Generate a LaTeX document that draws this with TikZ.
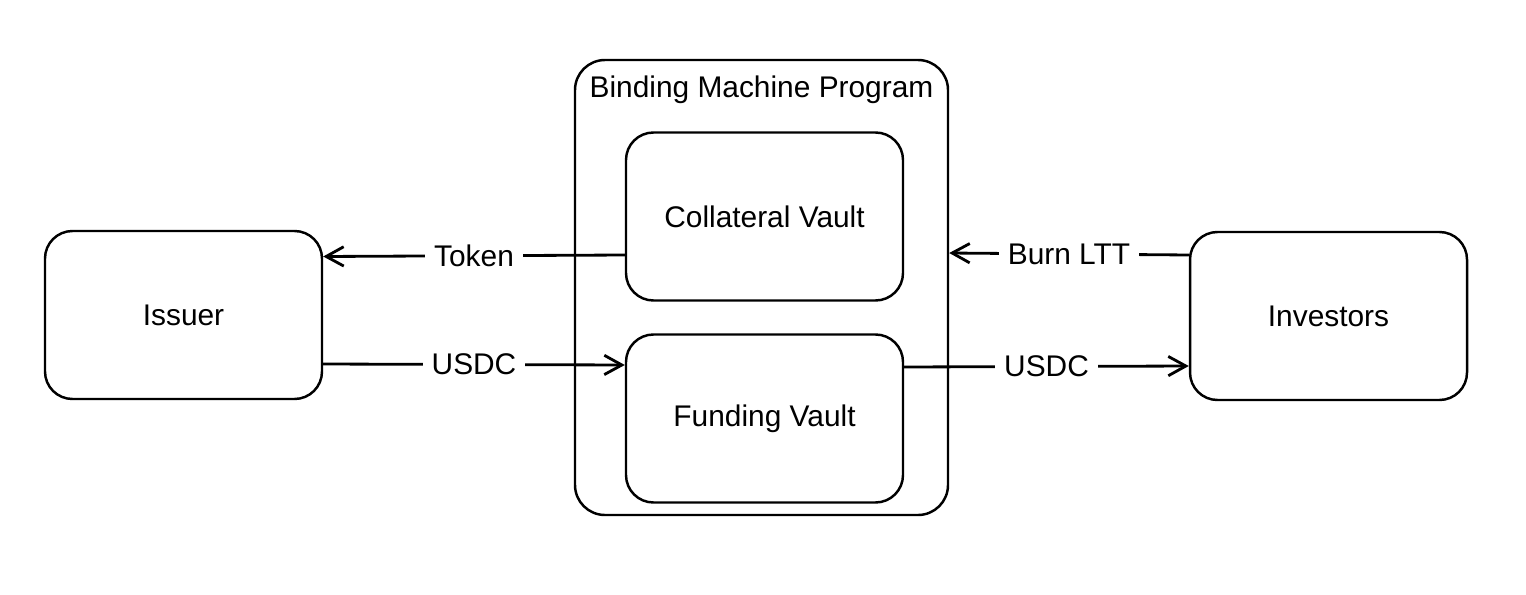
\documentclass[tikz,border=0pt]{standalone}
\usepackage{fontspec}
\setmainfont{Liberation Sans}
\usetikzlibrary{arrows.meta}
\begin{document}
\begin{tikzpicture}[scale=1, line join = round, line cap = round,>={Straight Barb[length=10pt,width=11pt]}]
	\tikzset{box/.style={draw, line width=1.4pt, rounded corners=0.55cm, minimum width=5.54cm, minimum height=3.36cm, font=\fontsize{17}{20}\selectfont},
		lbl/.style={fill=white, inner xsep=5pt, inner ysep=2pt, font=\fontsize{17}{20}\selectfont},
		flow/.style={->, line width=1.6pt}}
	\useasboundingbox (0,0) rectangle (30.52,11.88);
	\node[box, minimum width=7.46cm, minimum height=9.1cm, rounded corners=0.6cm] (bmp) at (15.23,6.13) {};
	\node[font=\fontsize{17}{20}\selectfont] (bmplabel) at ([yshift=-0.62cm]bmp.north) {Binding Machine Program};
	\node[box, fill=white] (collateral) at (15.29,7.55) {Collateral Vault};
	\node[box, fill=white] (funding) at (15.29,3.51) {Funding Vault};
	\node[box] (issuer) at (3.67,5.58) {Issuer};
	\node[box] (investors) at (26.57,5.56) {Investors};
	\draw[flow] ([yshift=-0.77cm]collateral.west) -- node[lbl]{Token} ([yshift=1.17cm]issuer.east);
	\draw[flow] ([yshift=-0.98cm]issuer.east) -- node[lbl]{USDC} ([yshift=1.07cm]funding.west);
	\draw[flow] ([yshift=1.03cm]funding.east) -- node[lbl]{USDC} ([yshift=-1.0cm]investors.west);
	\draw[flow] ([yshift=1.22cm]investors.west) -- node[lbl]{Burn LTT} ([yshift=0.69cm]bmp.east);
\end{tikzpicture}
\end{document}
